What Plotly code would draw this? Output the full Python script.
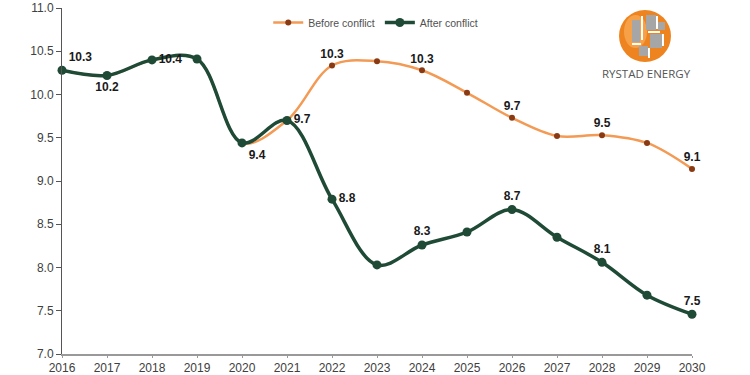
import plotly.graph_objects as go

years = list(range(2016, 2031))
after_conflict = [10.28, 10.22, 10.40, 10.41, 9.44, 9.70, 8.79, 8.03, 8.26, 8.41, 8.67, 8.35, 8.06, 7.68, 7.46]
before_conflict = [10.28, 10.22, 10.40, 10.41, 9.44, 9.70, 10.335, 10.385, 10.28, 10.02, 9.73, 9.52, 9.53, 9.44, 9.14]
after_labeled = [1, 1, 1, 0, 1, 1, 1, 0, 1, 0, 1, 0, 1, 0, 1]
before_labeled = [0, 0, 0, 0, 0, 0, 1, 0, 1, 0, 1, 0, 1, 0, 1]
after_pos = ["top right", "bottom center", "middle right", "top center", "bottom right", "middle right",
             "middle right", "top center", "top center", "top center", "top center", "top center",
             "top center", "top center", "top center"]
y_ticks = [7.0, 7.5, 8.0, 8.5, 9.0, 9.5, 10.0, 10.5, 11.0]

GREEN = "#1e4a36"
ORANGE = "#f39a55"
BROWN = "#8a3a12"
LABEL_FONT = dict(family="Liberation Sans, Arial", size=12, color="#1a1a1a", weight="bold")

after_text = [f"{v:.1f}" if s else "" for v, s in zip(after_conflict, after_labeled)]
before_text = [f"{v:.1f}" if s else "" for v, s in zip(before_conflict, before_labeled)]

fig = go.Figure()
fig.add_trace(go.Scatter(
    x=years, y=before_conflict, name="Before conflict", mode="lines+markers+text",
    line=dict(color=ORANGE, width=2.5, shape="spline", smoothing=1),
    marker=dict(color=BROWN, size=6),
    text=before_text, textposition="top center", textfont=LABEL_FONT, cliponaxis=False,
))
fig.add_trace(go.Scatter(
    x=years, y=after_conflict, name="After conflict", mode="lines+markers+text",
    line=dict(color=GREEN, width=3.5, shape="spline", smoothing=1),
    marker=dict(color=GREEN, size=9),
    text=after_text, textposition=after_pos, textfont=LABEL_FONT, cliponaxis=False,
))

# Plot-area pixel box and pixel -> paper helpers (for the logo only)
L, R, T, B = 62, 692, 8, 354
def px(x):
    return (x - L) / (R - L)
def py(y):
    return (B - y) / (B - T)

def rect(x0, y0, x1, y1, color):
    return dict(type="rect", xref="paper", yref="paper", x0=px(x0), x1=px(x1), y0=py(y1), y1=py(y0),
                fillcolor=color, line=dict(width=0), layer="above")

cx, cy, r = 645, 36, 26
shapes = [
    dict(type="circle", xref="paper", yref="paper", x0=px(cx - r), x1=px(cx + r), y0=py(cy + r), y1=py(cy - r),
         fillcolor="#ee8420", line=dict(width=0), layer="above"),
    dict(type="circle", xref="paper", yref="paper", x0=px(cx - r + 5), x1=px(cx + 2), y0=py(cy + 12), y1=py(cy - r + 5),
         fillcolor="#f6a048", line=dict(width=0), layer="above"),
]
gray_blocks = [(632, 20, 640, 42), (646, 15, 656, 30), (650, 34, 662, 48), (639, 46, 648, 56), (658, 22, 665, 30)]
for b in gray_blocks:
    shapes.append(rect(*b, "#a6a6a6"))
white_blocks = [(641, 16, 643, 40), (632, 43, 641, 45), (648, 31, 660, 33), (648, 48, 650, 58), (656, 16, 658, 29), (662, 34, 664, 46)]
for b in white_blocks:
    shapes.append(rect(*b, "#ffffff"))

fig.update_layout(
    width=750, height=375,
    margin=dict(l=L, r=750 - R, t=T, b=375 - B),
    plot_bgcolor="white", paper_bgcolor="white",
    font=dict(family="Liberation Sans, Arial", size=12, color="#404040"),
    showlegend=True,
    legend=dict(orientation="h", x=0.498, xanchor="center", y=1.0, yanchor="top",
                font=dict(size=10.5, color="#505050"), itemwidth=30, bgcolor="rgba(0,0,0,0)"),
    xaxis=dict(range=[2016, 2030], tickmode="array", tickvals=years, ticktext=[str(y) for y in years],
               showgrid=False, zeroline=False, showline=True, linecolor="#999999", linewidth=2,
               ticks="outside", tickcolor="#999999", ticklen=2, tickfont=dict(size=12, color="#404040"),
               automargin=False),
    yaxis=dict(range=[7.0, 11.0], tickmode="array", tickvals=y_ticks, ticktext=[f"{v:.1f}" for v in y_ticks],
               showgrid=False, zeroline=False, showline=True, linecolor="#555555", linewidth=1,
               ticks="outside", tickcolor="#555555", ticklen=5, tickfont=dict(size=12, color="#404040"),
               automargin=False),
    shapes=shapes,
    annotations=[dict(text="RYSTAD ENERGY", xref="paper", yref="paper", x=px(646), y=py(74),
                      xanchor="center", yanchor="middle", showarrow=False,
                      font=dict(family="Open Sans, Liberation Sans", size=11.5, color="#555555"))],
)

fig.write_html("out.html", config={"displayModeBar": False},
               post_script="document.body.style.margin='0px';")
